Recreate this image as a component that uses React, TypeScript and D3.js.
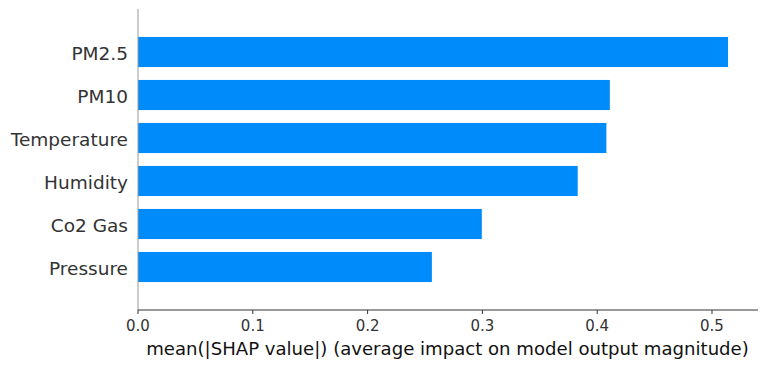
import { useMemo } from "react";
import * as d3 from "d3";

const features = ["PM2.5", "PM10", "Temperature", "Humidity", "Co2 Gas", "Pressure"];
const meanShap = [0.514, 0.411, 0.408, 0.383, 0.2995, 0.256];
const xTicks = [0, 0.1, 0.2, 0.3, 0.4, 0.5];

const WIDTH = 767;
const HEIGHT = 368;
const LEFT = 138;
const RIGHT = 758;
const TOP = 9;
const BOTTOM = 310;
const FONT = "DejaVu Sans, sans-serif";

const App = () => {
  const x = useMemo(
    () => d3.scaleLinear().domain([0, 0.54]).range([LEFT, LEFT + 0.54 * 1148]),
    []
  );
  // matplotlib-style: rows at 0..n-1, one unit of padding each side
  const y = useMemo(
    () => d3.scaleLinear().domain([-1, features.length]).range([TOP, BOTTOM]),
    []
  );
  const bandH = (y(1) - y(0)) * 0.7;

  return (
    <svg
      width={WIDTH}
      height={HEIGHT}
      style={{ position: "absolute", left: 0, top: 0, background: "#fff" }}
      fontFamily={FONT}
    >
      {features.map((f, i) => (
        <g key={f}>
          <rect
            x={x(0)}
            y={y(i) - bandH / 2}
            width={x(meanShap[i]) - x(0)}
            height={bandH}
            fill="#008bfb"
          />
          <text
            x={LEFT - 10}
            y={y(i) + 1}
            textAnchor="end"
            dominantBaseline="central"
            fontSize={18.5}
            fill="#333333"
          >
            {f}
          </text>
        </g>
      ))}
      <line x1={LEFT} x2={LEFT} y1={TOP} y2={BOTTOM} stroke="#999999" strokeWidth={1} />
      <line x1={LEFT} x2={RIGHT} y1={BOTTOM} y2={BOTTOM} stroke="#333333" strokeWidth={1} />
      {xTicks.map((t) => (
        <g key={t}>
          <line x1={x(t)} x2={x(t)} y1={BOTTOM} y2={BOTTOM + 4} stroke="#333333" />
          <text
            x={x(t)}
            y={BOTTOM + 21}
            textAnchor="middle"
            fontSize={15}
            fill="#333333"
          >
            {d3.format(".1f")(t)}
          </text>
        </g>
      ))}
      <text x={447.5} y={355} textAnchor="middle" fontSize={18.1} fill="#111111">
        mean(|SHAP value|) (average impact on model output magnitude)
      </text>
    </svg>
  );
};

export default App;
